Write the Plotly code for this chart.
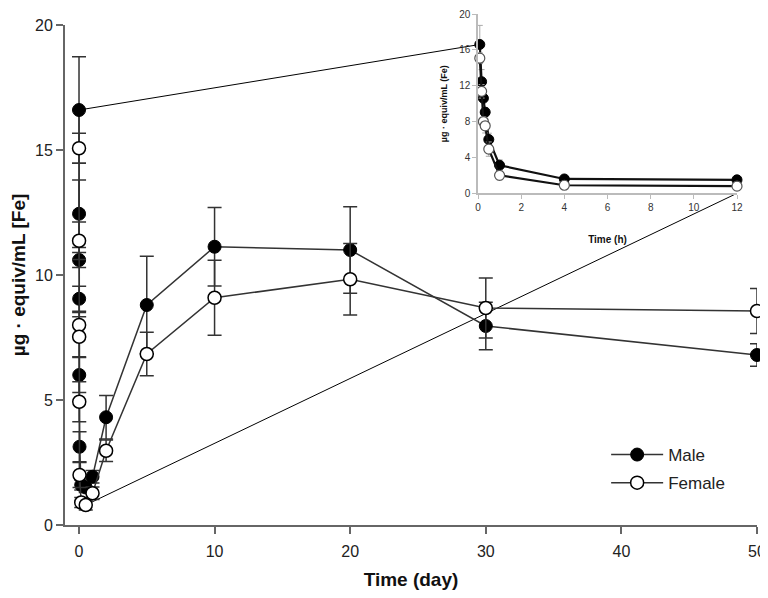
import plotly.graph_objects as go

# ---------------- data ----------------
early_hours = [0.083, 0.167, 0.25, 0.333, 0.5, 1, 4, 12]
male_early = [16.6, 12.45, 10.6, 9.05, 6.0, 3.13, 1.6, 1.5]
female_early = [15.07, 11.37, 8.0, 7.53, 4.93, 2.0, 0.9, 0.8]
male_early_sd = [2.13, 1.35, 0.3, 0.5, 0.7, 0.6, 0.2, 0.2]
female_early_sd = [0.6, 0.75, 0.5, 0.8, 0.8, 0.5, 0.2, 0.2]

later_days = [1, 2, 5, 10, 20, 30, 50]
male_later = [1.93, 4.31, 8.8, 11.13, 11.0, 7.96, 6.8]
female_later = [1.27, 2.97, 6.84, 9.09, 9.83, 8.68, 8.56]
male_later_sd = [0.25, 0.87, 1.95, 1.57, 1.73, 0.95, 0.45]
female_later_sd = [0.25, 0.43, 0.87, 1.5, 1.43, 1.2, 0.9]

main_xticks = [0, 10, 20, 30, 40, 50]
main_yticks = [0, 5, 10, 15, 20]
inset_xticks = [0, 2, 4, 6, 8, 10, 12]
inset_yticks = [0, 4, 8, 12, 16, 20]

# ---------------- layout geometry ----------------
W, H = 760, 582
ML, MR, MT, MB = 57, 11, 6, 65
PW = W - ML - MR
PH = H - MT - MB
BOTTOM = H - MB


def ydom(top_px, bottom_px):
    return [(BOTTOM - bottom_px) / PH, (BOTTOM - top_px) / PH]


main_xr = [-1.03, 50]
main_yr = [0, 20]
main_ydom = ydom(17, BOTTOM)
inset_xr = [0, 12]
inset_yr = [0, 20]
inset_xdom = [(470 - ML) / PW, (729 - ML) / PW]
inset_ydom = ydom(MT, 185.3)

FONT = "Liberation Sans, Arial, sans-serif"
LINE_C = "#333333"

days_all = [h / 24 for h in early_hours] + later_days
male_all = male_early + male_later
female_all = female_early + female_later
male_sd_all = male_early_sd + male_later_sd
female_sd_all = female_early_sd + female_later_sd

fig = go.Figure()

fig.add_trace(go.Scatter(
    x=days_all, y=male_all, name="Male", mode="lines+markers", legendgroup="m",
    line=dict(color=LINE_C, width=1.5),
    marker=dict(symbol="circle", size=13, color="black", line=dict(color="black", width=1)),
    error_y=dict(type="data", array=male_sd_all, color=LINE_C, thickness=1.5, width=7),
    cliponaxis=False, xaxis="x", yaxis="y"))
fig.add_trace(go.Scatter(
    x=days_all, y=female_all, name="Female", mode="lines+markers", legendgroup="f",
    line=dict(color=LINE_C, width=1.5),
    marker=dict(symbol="circle", size=13, color="white", line=dict(color="black", width=1.5)),
    error_y=dict(type="data", array=female_sd_all, color=LINE_C, thickness=1.5, width=7),
    cliponaxis=False, xaxis="x", yaxis="y"))

# inset
fig.add_trace(go.Scatter(
    x=early_hours, y=male_early, name="Male", mode="lines+markers", showlegend=False,
    line=dict(color="#111111", width=2.2),
    marker=dict(symbol="circle", size=10, color="black", line=dict(color="black", width=1)),
    error_y=dict(type="data", array=male_early_sd, color="#aaaaaa", thickness=1, width=3),
    cliponaxis=False, xaxis="x2", yaxis="y2"))
fig.add_trace(go.Scatter(
    x=early_hours, y=female_early, name="Female", mode="lines+markers", showlegend=False,
    line=dict(color="#111111", width=2.2),
    marker=dict(symbol="circle", size=10, color="white", line=dict(color="#555555", width=1.2)),
    error_y=dict(type="data", array=female_early_sd, color="#aaaaaa", thickness=1, width=3),
    cliponaxis=False, xaxis="x2", yaxis="y2"))


def main_paper(x, y):
    px = (x - main_xr[0]) / (main_xr[1] - main_xr[0])
    py = main_ydom[0] + (y - main_yr[0]) / (main_yr[1] - main_yr[0]) * (main_ydom[1] - main_ydom[0])
    return px, py


def inset_paper(x, y):
    px = inset_xdom[0] + (x - inset_xr[0]) / (inset_xr[1] - inset_xr[0]) * (inset_xdom[1] - inset_xdom[0])
    py = inset_ydom[0] + (y - inset_yr[0]) / (inset_yr[1] - inset_yr[0]) * (inset_ydom[1] - inset_ydom[0])
    return px, py


a0 = main_paper(early_hours[0] / 24, male_early[0])
a1 = inset_paper(early_hours[0], male_early[0])
b0 = main_paper(early_hours[-1] / 24, female_early[-1])
b1 = inset_paper(inset_xr[1], 0)
for p0, p1 in [(a0, a1), (b0, b1)]:
    fig.add_shape(type="line", xref="paper", yref="paper",
                  x0=p0[0], y0=p0[1], x1=p1[0], y1=p1[1],
                  line=dict(color="black", width=1), layer="below")

axis_common = dict(showgrid=False, zeroline=False, ticks="outside", showline=True,
                   automargin=False, ticklabeloverflow="allow")

fig.update_layout(
    width=W, height=H,
    margin=dict(l=ML, r=MR, t=MT, b=MB, autoexpand=False),
    paper_bgcolor="white", plot_bgcolor="rgba(0,0,0,0)",
    font=dict(family=FONT, color="#222222"),
    xaxis=dict(**axis_common, domain=[0, 1], range=main_xr, tickvals=main_xticks,
               linecolor="#666666", linewidth=2, tickcolor="#666666", tickwidth=2, ticklen=7,
               tickfont=dict(size=16), anchor="y", ticklabelstandoff=4,
               title=dict(text="<b>Time (day)</b>", font=dict(size=19, color="#111111"), standoff=14)),
    yaxis=dict(**axis_common, domain=main_ydom, range=main_yr, tickvals=main_yticks,
               linecolor="#666666", linewidth=2, tickcolor="#666666", tickwidth=2, ticklen=7,
               tickfont=dict(size=16), anchor="x",
               title=dict(text="<b>µg · equiv/mL [Fe]</b>", font=dict(size=19, color="#111111"), standoff=8)),
    xaxis2=dict(**axis_common, domain=inset_xdom, range=inset_xr, tickvals=inset_xticks,
                linecolor="#bbbbbb", linewidth=1.5, tickcolor="#bbbbbb", ticklen=4,
                tickfont=dict(size=10, color="#333333"), anchor="y2",
                title=dict(text="<b>Time (h)</b>", font=dict(size=10, color="#111111"), standoff=24)),
    yaxis2=dict(**axis_common, domain=inset_ydom, range=inset_yr, tickvals=inset_yticks,
                linecolor="#bbbbbb", linewidth=1.5, tickcolor="#bbbbbb", ticklen=4,
                tickfont=dict(size=10, color="#333333"), anchor="x2",
                title=dict(text="<b>µg · equiv/mL (Fe)</b>", font=dict(size=9, color="#111111"), standoff=10)),
    legend=dict(x=0.782, y=1 - (437 - 8 - MT) / PH, xanchor="left", yanchor="top", itemwidth=52,
                tracegroupgap=3,
                bgcolor="rgba(0,0,0,0)", font=dict(size=17, color="#222222")),
    showlegend=True,
)

fig.write_html("out.html")
